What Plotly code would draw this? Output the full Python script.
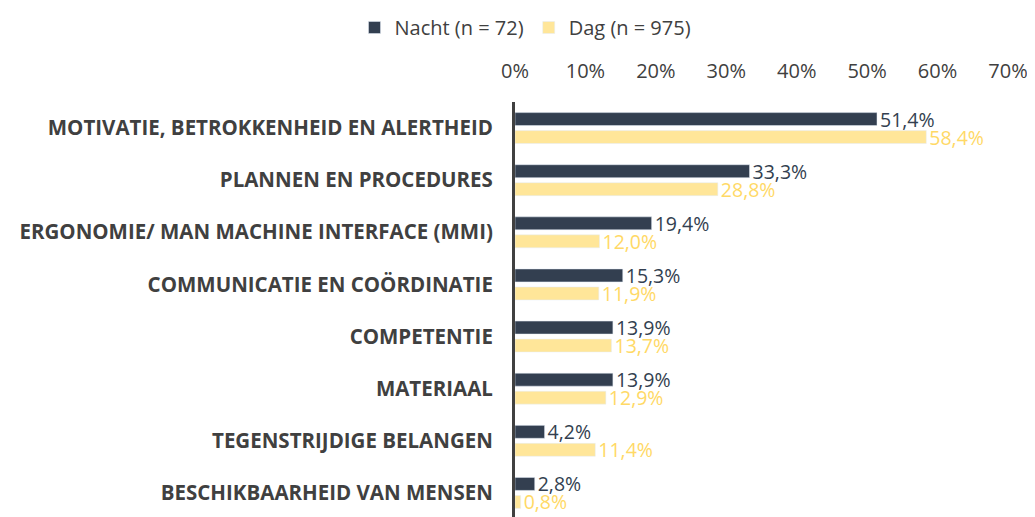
import plotly.graph_objects as go

categories = [
    "MOTIVATIE, BETROKKENHEID EN ALERTHEID",
    "PLANNEN EN PROCEDURES",
    "ERGONOMIE/ MAN MACHINE INTERFACE (MMI)",
    "COMMUNICATIE EN COÖRDINATIE",
    "COMPETENTIE",
    "MATERIAAL",
    "TEGENSTRIJDIGE BELANGEN",
    "BESCHIKBAARHEID VAN MENSEN",
]
nacht = [51.4, 33.3, 19.4, 15.3, 13.9, 13.9, 4.2, 2.8]
dag = [58.4, 28.8, 12.0, 11.9, 13.7, 12.9, 11.4, 0.8]
tick_vals = [0, 10, 20, 30, 40, 50, 60, 70]
tick_text = [f"{v}%" for v in tick_vals]

def fmt(v):
    return f"{v:.1f}%".replace(".", ",")

FONT = "Open Sans"
fig = go.Figure()
fig.add_trace(go.Bar(
    y=categories, x=nacht, orientation="h", name="Nacht (n = 72)",
    marker=dict(color="#333F50"),
    text=[fmt(v) for v in nacht], textposition="outside", constraintext="none",
    textfont=dict(color="#333F50", size=19.5, family=FONT),
    cliponaxis=False,
))
fig.add_trace(go.Bar(
    y=categories, x=dag, orientation="h", name="Dag (n = 975)",
    marker=dict(color="#FFE699"),
    text=[fmt(v) for v in dag], textposition="outside", constraintext="none",
    textfont=dict(color="#FFD966", size=19.5, family=FONT),
    cliponaxis=False,
))
fig.update_layout(
    width=1035, height=517,
    paper_bgcolor="white", plot_bgcolor="white",
    barmode="group", bargap=0.31, bargroupgap=0.28,
    margin=dict(l=507, r=35, t=94, b=6),
    font=dict(family=FONT, color="#404040"),
    legend=dict(orientation="h", xref="container", x=0.5, xanchor="center",
                yref="container", y=1.0, yanchor="top",
                font=dict(size=20, color="#404040"), traceorder="normal"),
    showlegend=True,
)
fig.update_xaxes(
    side="top", range=[0, 70], tickvals=tick_vals, ticktext=tick_text,
    showgrid=False, zeroline=False, showline=False, automargin=False,
    ticks="outside", ticklen=15, tickcolor="rgba(0,0,0,0)",
    tickfont=dict(size=20, color="#404040", family=FONT),
)
fig.update_yaxes(
    autorange="reversed", showgrid=False, showline=True, automargin=False,
    linecolor="#404040", linewidth=3,
    ticks="", ticklabelstandoff=15,
    tickfont=dict(size=20.5, color="#404040", family=FONT, weight="bold"),
)
fig.write_html("out.html")
